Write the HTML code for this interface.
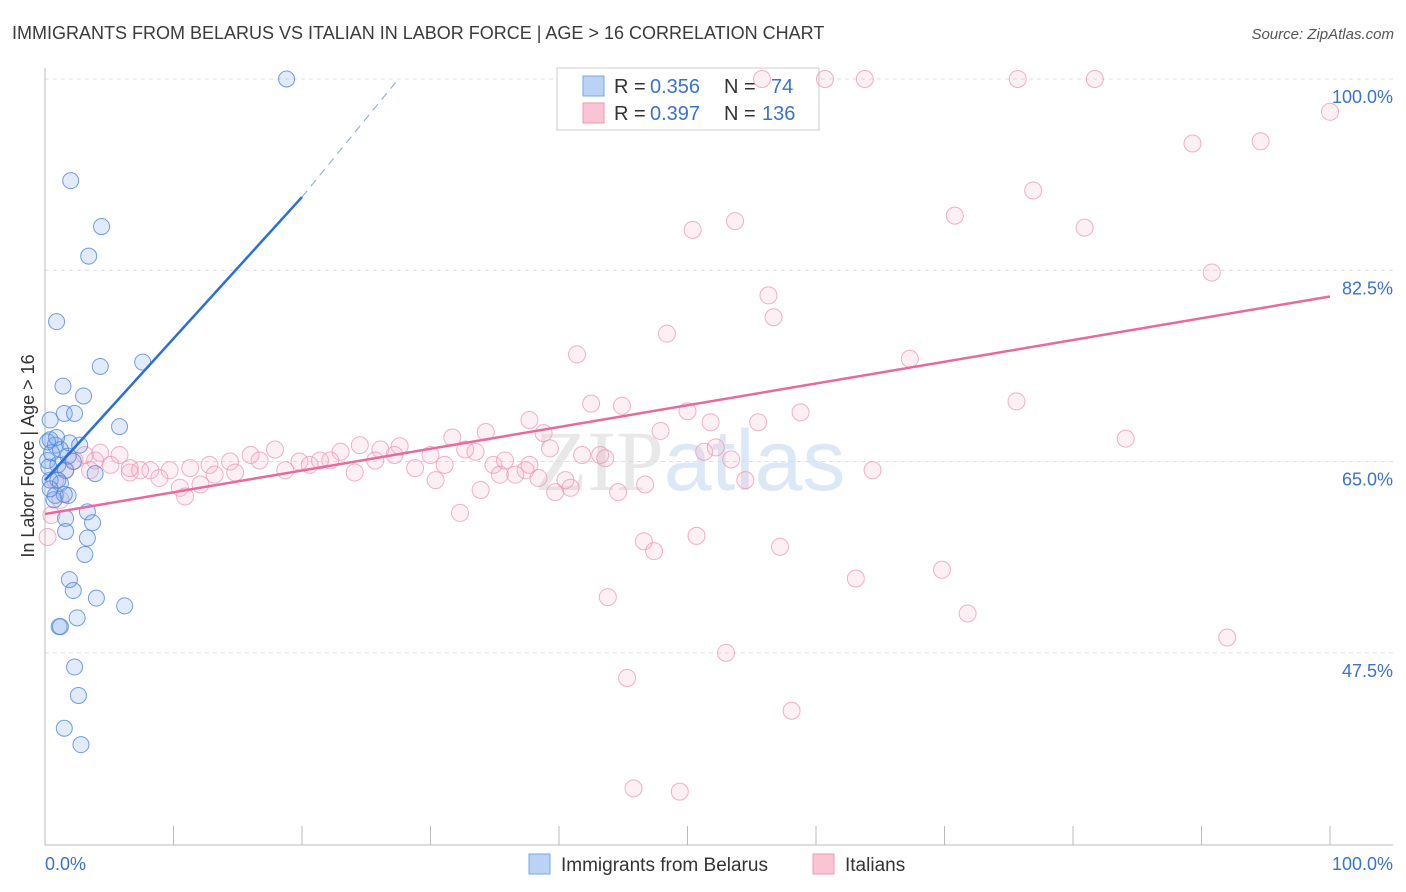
<!DOCTYPE html>
<html><head><meta charset="utf-8"><style>
body{margin:0;background:#fff;font-family:"Liberation Sans",sans-serif;}
svg{display:block}
</style></head><body>
<svg id="chart" width="1406" height="892" viewBox="0 0 1406 892">
<text x="12" y="39" font-size="18" fill="#3a3a3a">IMMIGRANTS FROM BELARUS VS ITALIAN IN LABOR FORCE | AGE &gt; 16 CORRELATION CHART</text>
<text x="1394" y="39" font-size="15" fill="#555" text-anchor="end" font-style="italic">Source: ZipAtlas.com</text>
<text x="690" y="490" font-size="86" fill="#e8e8e8" text-anchor="middle" font-family="Liberation Serif">ZIP<tspan fill="#dde8f7" font-family="Liberation Sans">atlas</tspan></text>
<text transform="translate(34,456) rotate(-90)" font-size="18" fill="#333" text-anchor="middle">In Labor Force | Age &gt; 16</text>
<g id="grid"></g><g id="axes"></g>
<g>
<rect x="557" y="68" width="262" height="62" fill="#fff" stroke="#ccc"/>
<rect x="583" y="76" width="21" height="20" fill="#b9d2f5" stroke="#7aa5e6"/>
<rect x="583" y="103" width="21" height="20" fill="#f9c4d4" stroke="#ee9ab8"/>
<text x="614" y="93" font-size="20" fill="#333">R =</text>
<text x="650" y="93" font-size="20" fill="#3a72d0">0.356</text>
<text x="724" y="93" font-size="20" fill="#333">N =</text>
<text x="771" y="93" font-size="20" fill="#3a72d0">74</text>
<text x="614" y="120" font-size="20" fill="#333">R =</text>
<text x="650" y="120" font-size="20" fill="#3a72d0">0.397</text>
<text x="724" y="120" font-size="20" fill="#333">N =</text>
<text x="762" y="120" font-size="20" fill="#3a72d0">136</text>
</g>
<g id="pts"></g><g id="lines"></g>
<g>
<rect x="529" y="854" width="21" height="20" fill="#b9d2f5" stroke="#7aa5e6"/>
<text x="561" y="871" font-size="19" fill="#333">Immigrants from Belarus</text>
<rect x="813" y="854" width="21" height="20" fill="#f9c4d4" stroke="#ee9ab8"/>
<text x="845" y="871" font-size="19" fill="#333">Italians</text>
</g>
</svg>
<script>
const yTicks=[100,82.5,65,47.5];
const yTickLabels=["100.0%","82.5%","65.0%","47.5%"];
const xTickLabels=["0.0%","100.0%"];
const blueX=[18.8,2.0,4.4,3.4,0.9,4.3,7.6,1.4,3.0,1.5,2.3,5.8,0.4,0.4,0.8,1.9,1.2,2.7,0.2,1.0,1.6,3.9,0.4,1.2,1.8,0.8,3.3,1.6,3.7,1.6,3.3,3.1,1.9,2.2,4.0,6.2,2.5,1.1,1.2,2.3,2.6,1.5,2.8,0.2,0.5,0.3,1.0,1.5,0.7,1.8,0.9,2.2,0.4];
const blueY=[100,90.7,86.5,83.8,77.8,73.7,74.1,71.9,71.0,69.4,69.4,68.2,68.8,67.0,66.5,66.7,66.1,66.5,65.1,64.7,64.2,63.9,63.3,63.0,61.9,61.9,60.4,59.8,59.4,58.6,58.0,56.5,54.2,53.2,52.5,51.8,50.7,49.9,49.9,46.2,43.6,40.6,39.1,66.8,65.8,64.5,63.3,62.0,61.5,65.5,67.2,65.0,62.5];
const pinkX=[60.7,63.8,75.7,81.7,55.8,100,89.3,94.6,76.9,53.7,50.4,70.8,80.9,90.8,56.3,56.7,48.4,41.4,67.3,75.6,42.5,44.9,50.0,58.8,37.7,38.8,34.3,51.8,55.5,31.7,84.1,47.9,32.7,33.5,27.6,26.1,24.5,23.0,21.4,19.8,17.9,16.0,14.4,12.8,11.3,9.7,8.2,6.6,5.1,3.9,3.1,2.3,1.6,0.8,4.3,5.8,7.4,8.9,10.5,10.9,12.1,13.2,14.8,16.7,18.7,20.6,22.2,24.1,25.7,27.2,28.8,30.0,30.4,31.1,32.3,33.9,34.9,35.4,35.8,36.6,37.4,37.7,38.4,39.3,39.7,40.5,40.9,41.8,43.2,43.6,44.6,46.7,46.6,47.4,43.8,45.3,45.8,49.4,50.7,51.3,52.2,53.4,53.0,54.5,57.2,58.1,63.1,64.4,69.8,71.8,92.0,0.2,1.2,0.5,3.5,6.6];
const pinkY=[100,100,100,100,100,97.0,94.1,94.3,89.8,87.0,86.2,87.5,86.4,82.3,80.2,78.2,76.7,74.8,74.4,70.5,70.3,70.1,69.6,69.5,68.8,67.6,67.7,68.6,68.6,67.2,67.1,67.8,66.1,65.9,66.4,66.1,66.5,65.9,65.1,65.0,66.1,65.6,65.0,64.7,64.4,64.2,64.2,64.0,64.7,65.1,65.6,65.1,64.2,63.3,65.8,65.6,64.2,63.5,62.6,61.8,62.9,63.8,64.0,65.1,64.2,64.7,65.1,64.0,65.1,65.6,64.4,65.6,63.3,64.7,60.3,62.4,64.7,63.8,65.1,63.8,64.2,64.7,63.5,66.2,62.2,63.3,62.6,65.6,65.6,65.3,62.2,62.9,57.7,56.8,52.6,45.2,35.1,34.8,58.2,65.9,66.3,65.2,47.5,63.3,57.2,42.2,54.3,64.2,55.1,51.1,48.9,58.1,61.5,60.1,64.2,64.4];
const blueLine=[[0,63.3],[20,89.2],[27.5,100]];
const pinkLine=[[0,60.2],[100,80.1]];
const sx=v=>45+v*12.85, sy=v=>79+(100-v)*10.93;
const NS="http://www.w3.org/2000/svg";
function mk(tag,attrs,parent){const e=document.createElementNS(NS,tag);for(const k in attrs)e.setAttribute(k,attrs[k]);document.getElementById(parent).appendChild(e);return e;}
yTicks.forEach((t,i)=>{
 const g=mk('line',{x1:45,x2:1393,y1:sy(t),y2:sy(t),stroke:'#ddd','stroke-dasharray':'4,4'},'grid');
 
 
 const l=mk('text',{x:1393,y:sy(t)+24,'font-size':18,fill:'#3a72d0','text-anchor':'end'},'grid');
 l.textContent=yTickLabels[i];
 
 
});
const ax=mk('line',{x1:45,x2:1393,y1:845,y2:845,stroke:'#bbb'},'axes');


const ay=mk('line',{x1:45,x2:45,y1:68,y2:845,stroke:'#bbb'},'axes');


for(let i=0;i<=10;i++){
 const t=mk('line',{x1:sx(i*10),x2:sx(i*10),y1:826,y2:845,stroke:'#bbb'},'axes');
 
 
}
[0,1].forEach(i=>{
 const l=mk('text',{x:i==0?45:1393,y:870,'font-size':18,fill:'#3a72d0','text-anchor':i==0?'start':'end'},'axes');
 l.textContent=xTickLabels[i];
 
 
});
pinkX.forEach((x,i)=>{
 const c=mk('circle',{cx:sx(x),cy:sy(pinkY[i]),r:8.5,fill:'rgba(245,170,195,0.18)',stroke:'rgba(238,150,182,0.75)','stroke-width':1},'pts');
 
 
});
blueX.forEach((x,i)=>{
 const c=mk('circle',{cx:sx(x),cy:sy(blueY[i]),r:8,fill:'rgba(120,165,235,0.22)',stroke:'rgba(80,135,220,0.8)','stroke-width':1},'pts');
 
 
});
const b1=mk('line',{x1:sx(blueLine[0][0]),y1:sy(blueLine[0][1]),x2:sx(blueLine[1][0]),y2:sy(blueLine[1][1]),stroke:'#2a6fd6','stroke-width':2.5},'lines');


const b2=mk('line',{x1:sx(blueLine[1][0]),y1:sy(blueLine[1][1]),x2:sx(blueLine[2][0]),y2:sy(blueLine[2][1]),stroke:'#8fb3e8','stroke-width':1.2,'stroke-dasharray':'8,6'},'lines');


const p1=mk('line',{x1:sx(pinkLine[0][0]),y1:sy(pinkLine[0][1]),x2:sx(pinkLine[1][0]),y2:sy(pinkLine[1][1]),stroke:'#e8699a','stroke-width':2.5},'lines');


</script>
</body></html>
